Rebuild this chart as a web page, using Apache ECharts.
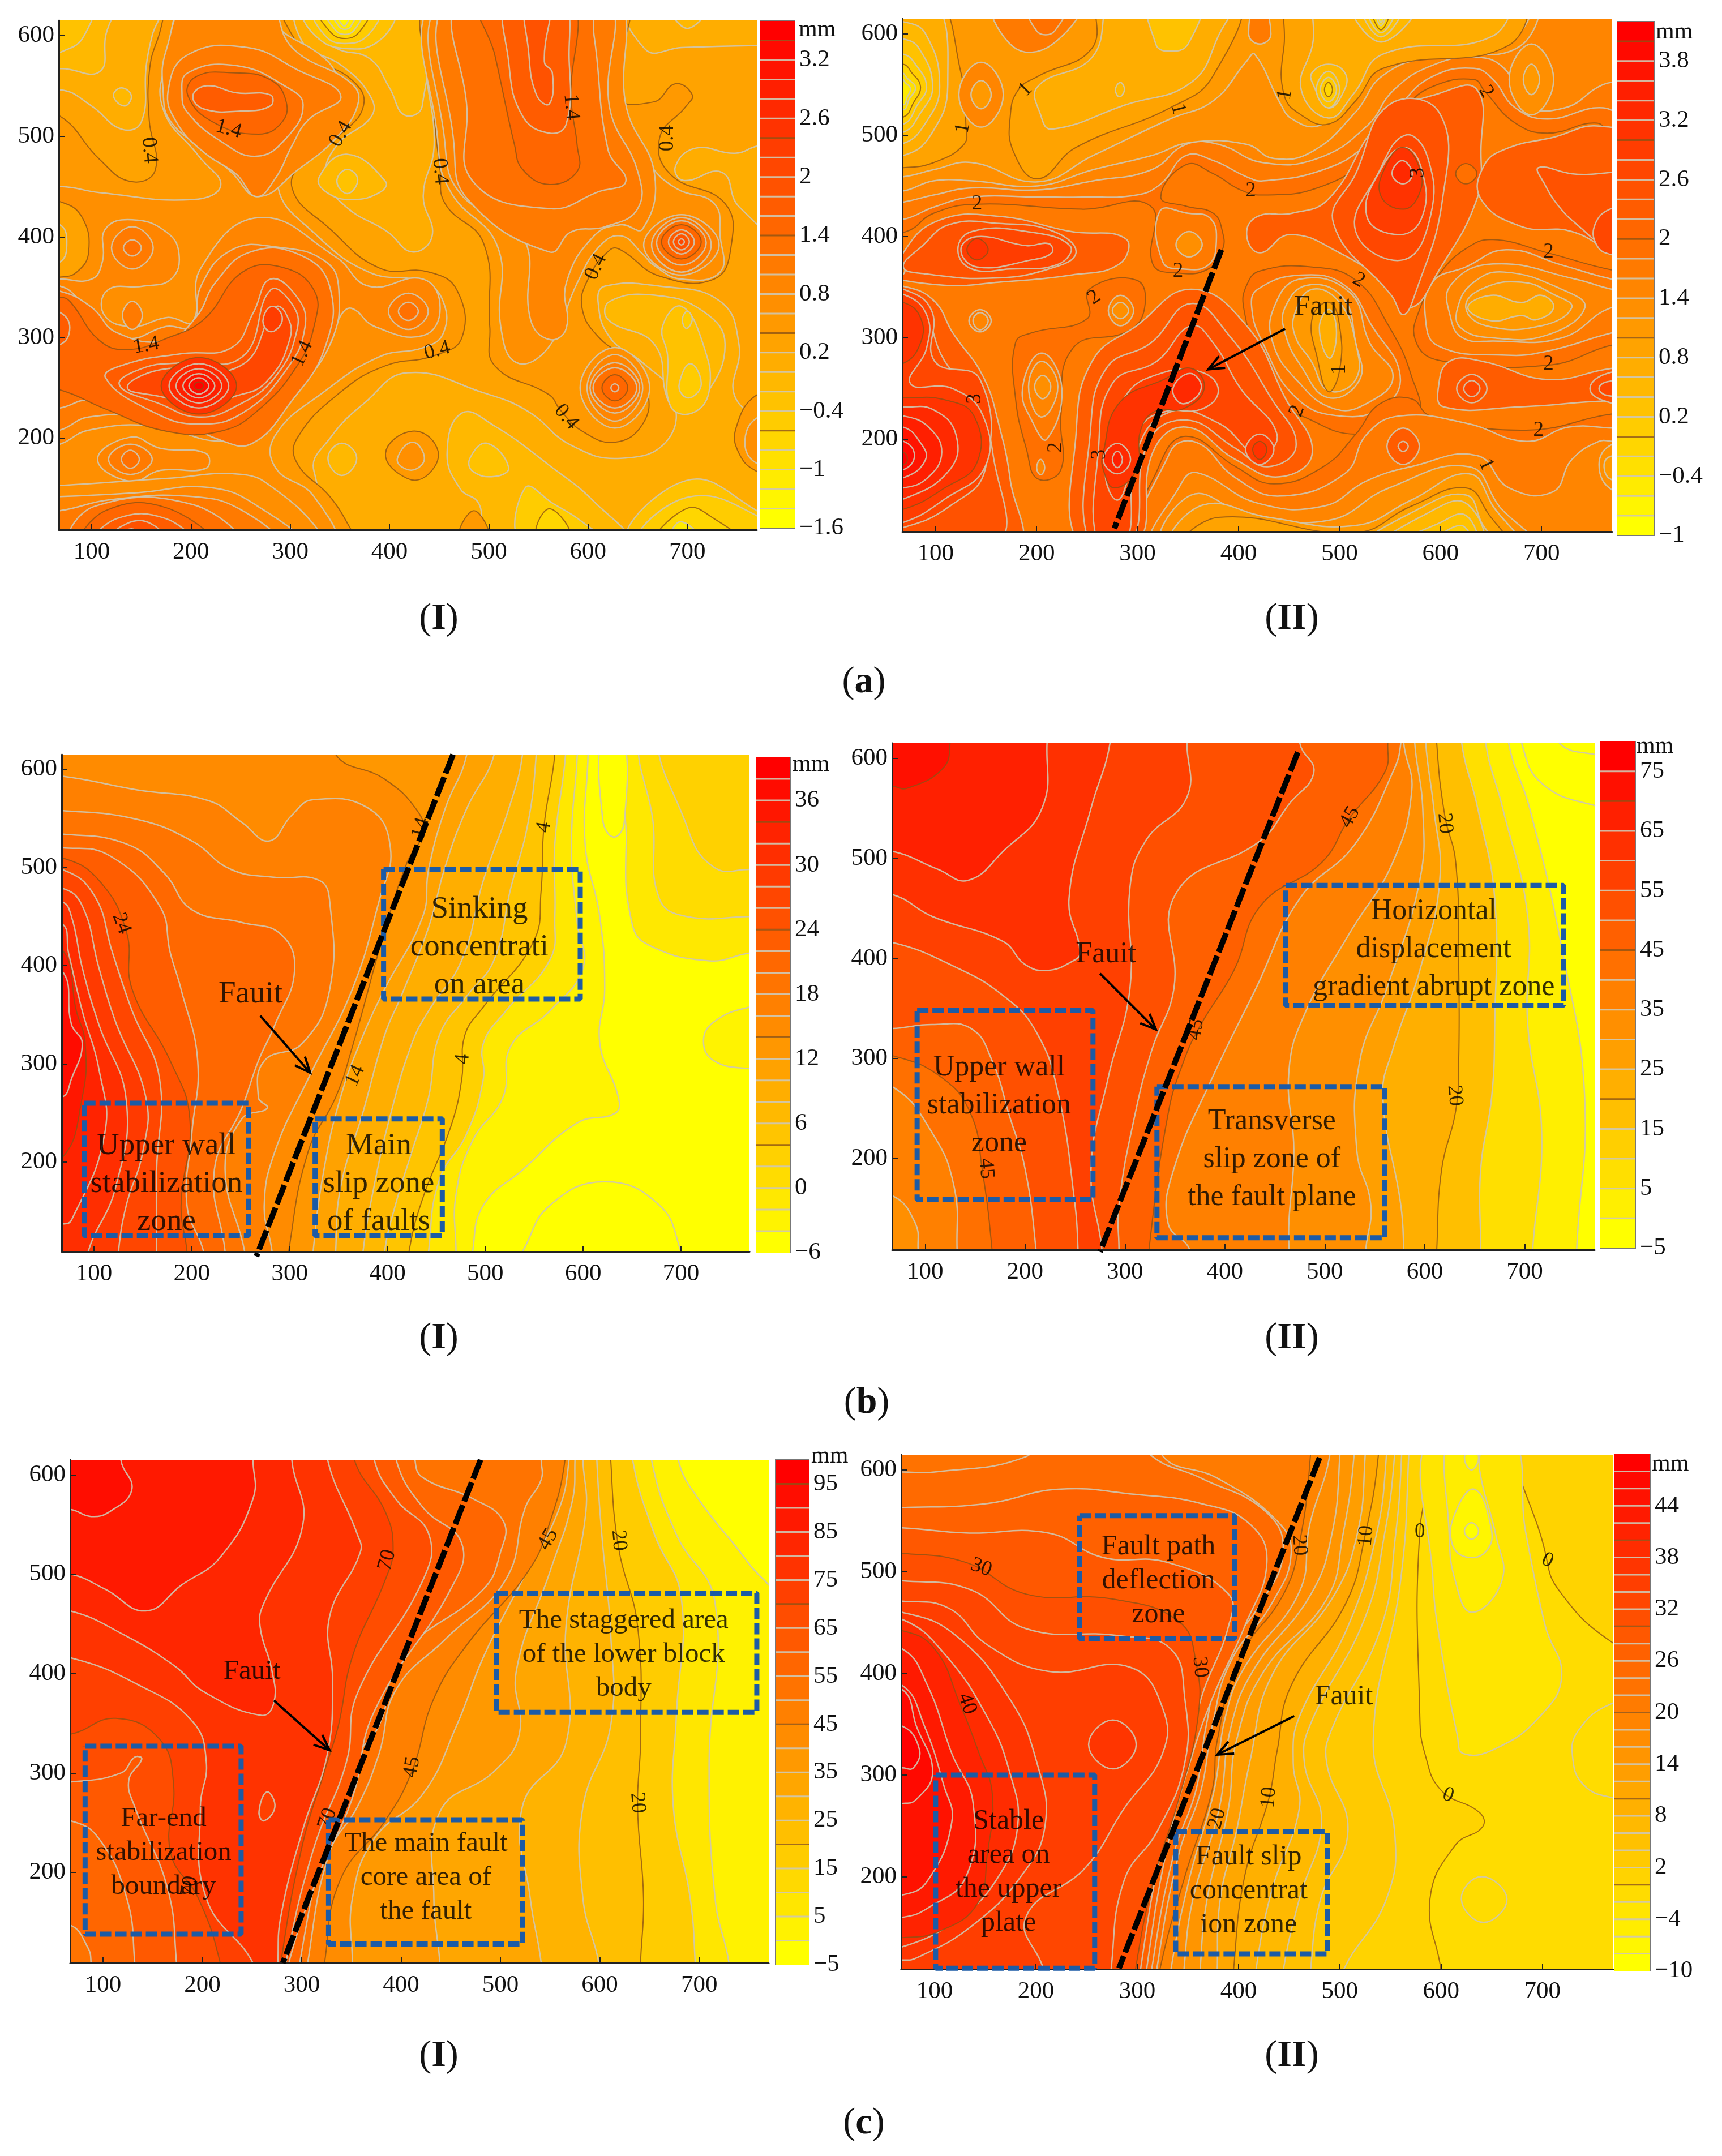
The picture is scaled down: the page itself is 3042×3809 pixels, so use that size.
<!DOCTYPE html>
<html>
<head>
<meta charset="utf-8">
<style>html,body{margin:0;background:#fff}#chart{width:3042px;height:3809px}</style>
<script src="https://cdn.jsdelivr.net/npm/echarts@6/dist/echarts.min.js"></script>
</head>
<body>
<div id="chart"></div>
<script>
const xTicks = [100, 200, 300, 400, 500, 600, 700]
const yTicks = [200, 300, 400, 500, 600]

const a1Levels = [-1.6,-1.4,-1.2,-1,-0.8,-0.6,-0.4,-0.2,0,0.2,0.4,0.6,0.8,1,1.2,1.4,1.6,1.8,2,2.2,2.4,2.6,2.8,3,3.2,3.4,3.6]
const a2Levels = [-1,-0.8,-0.6,-0.4,-0.2,0,0.2,0.4,0.6,0.8,1,1.2,1.4,1.6,1.8,2,2.2,2.4,2.6,2.8,3,3.2,3.4,3.6,3.8,4,4.2]
const b1Levels = [-6,-4,-2,0,2,4,6,8,10,12,14,16,18,20,22,24,26,28,30,32,34,36,38,40]
const b2Levels = [-5,0,5,10,15,20,25,30,35,40,45,50,55,60,65,70,75,80]
const c1Levels = [-5,0,5,10,15,20,25,30,35,40,45,50,55,60,65,70,75,80,85,90,95,100]
const c2Levels = [-10,-8,-6,-4,-2,0,2,4,6,8,10,12,14,16,18,20,22,24,26,28,30,32,34,36,38,40,42,44,46,48,50]

const a1BarTicks = [-1.6,-1,-0.4,0.2,0.8,1.4,2,2.6,3.2]
const a2BarTicks = [-1,-0.4,0.2,0.8,1.4,2,2.6,3.2,3.8]
const b1BarTicks = [-6,0,6,12,18,24,30,36]
const b2BarTicks = [-5,5,15,25,35,45,55,65,75]
const c1BarTicks = [-5,5,15,25,35,45,55,65,75,85,95]
const c2BarTicks = [-10,-4,2,8,14,20,26,32,38,44]

// [level, 1 = higher inside / -1 = lower inside, x,y list, 1 = close towards lower left]
const a1Contours = [
[0.2,-1,[40,535,68,546,100,530,130,507,150,514,155,570,161,600,172,640,40,640]],
[0,-1,[40,560,68,567,108,564,114,599,122,640,40,640]],
[-0.2,-1,[40,575,68,583,92,599,100,640,40,640]],
[0,-1,[122,540,130,548,140,540,133,530]],
[0.2,-1,[312,640,312,594,352,570,380,541,382,520,347,491,336,459,356,430,398,405,423,385,443,401,434,441,445,491,437,563,431,640]],
[0,-1,[312,640,317,614,345,588,380,577,400,548,415,521,433,530,431,640]],
[0,-1,[329,459,357,482,396,455,390,444,362,437,337,444]],
[-0.2,-1,[347,455,357,467,368,457,358,443]],
[-0.2,-1,[315,625,325,600,355,587,390,595,403,625]],
[-0.4,-1,[325,625,335,600,355,592,378,600,388,625]],
[-0.6,-1,[330,625,340,604,355,597,370,604,378,625]],
[-0.8,-1,[336,625,345,606,355,601,365,606,372,625]],
[-1,-1,[342,625,349,609,355,606,361,609,366,625]],
[-1.2,-1,[346,625,352,611,356,610,360,625]],
[0.2,-1,[368,95,324,167,340,200,376,236,418,265,495,245,539,227,583,193,633,180,680,198,685,243,655,275,622,300,610,336,617,351,672,351,733,336,752,293,749,239,800,200,800,95]],
[0,-1,[622,336,620,318,667,293,680,239,694,225,716,239,738,293,716,326,667,342]],
[0,-1,[473,225,506,212,561,173,606,137,640,95,500,95,490,135,471,150,458,185]],
[-0.2,-1,[481,180,498,195,520,171,506,162,484,167]],
[-0.4,-1,[534,95,537,151,565,135,594,117,617,95]],
[-0.6,-1,[548,100,561,130,583,100]],
[-0.2,-1,[641,95,699,158,770,128,800,100,800,95]],
[-0.4,-1,[652,95,699,141,770,123,790,95]],
[-0.6,-1,[669,95,699,130,727,120,755,95]],
[-1,-1,[683,95,693,117,716,95]],
[0.4,1,[396,185,423,207,448,190,440,165,418,160]],
[0.6,1,[408,180,423,196,435,182,428,170,415,170]],
[0,-1,[338,180,352,195,367,180,352,163]],
[0.4,1,[470,100,485,128,500,100]],
[-0.2,-1,[675,311,694,331,716,293,722,247,705,225,683,232,680,283]],
[-0.4,-1,[692,255,703,274,714,255,705,241,695,243]],
[-0.4,-1,[695,318,700,326,705,318,699,309]],
[0.2,-1,[640,640,658,586,694,588,770,590,800,590,800,640]],
[0,-1,[680,640,700,607,725,640]],
[0.2,-1,[800,495,770,490,748,483,708,488,688,470,696,456,735,464,752,430,800,400]],
[0.4,1,[40,520,68,520,108,477,139,455,164,466,158,516,158,563,166,595,188,640,268,640,318,581,362,556,374,531,351,502,318,480,302,448,340,408,390,369,440,365,468,347,473,300,445,282,396,272,351,246,307,200,307,175,340,142,362,108,368,95,40,95]],
[0.4,1,[445,640,445,527,451,466,456,433,495,393,501,311,506,272,561,243,572,228,594,207,627,196,655,214,660,247,644,275,611,300,594,329,600,358,622,387,633,387,672,361,727,358,744,390,738,433,683,462,672,498,699,530,705,541,688,552,666,534,628,541,633,640]],
[0.4,1,[800,243,770,243,749,210,752,185,770,167,800,160]],
[0.6,1,[800,222,770,220,758,195,770,175,800,172]],
[0.6,1,[40,445,68,450,108,444,202,437,230,451,208,480,172,527,175,574,199,640,268,640,285,610,335,577,351,552,360,531,340,502,307,480,288,448,324,404,379,365,434,355,454,336,454,304,434,290,390,281,334,246,285,203,285,171,324,142,340,95,40,95]],
[0.4,-1,[40,437,68,435,90,420,97,385,85,365,68,360,40,360]],
[0.2,-1,[40,415,68,412,75,395,68,375,40,375]],
[0.6,1,[449,640,449,491,462,444,509,390,512,311,528,275,560,290,589,354,611,390,633,401,655,383,666,372,694,358,733,365,733,401,727,433,689,448,661,473,625,527,620,640]],
[0.8,1,[456,640,456,491,473,441,534,401,542,318,561,298,578,309,578,354,606,401,633,412,655,408,667,462,639,527,622,640]],
[1,1,[462,640,465,491,479,437,561,385,583,405,617,410,650,428,650,465,622,527,614,640]],
[1.2,1,[473,640,478,527,484,455,561,428,611,445,638,455,620,487,606,600,597,640]],
[1.4,1,[491,640,506,581,526,491,534,467,561,452,589,465,589,491,583,535,580,640]],
[1.6,1,[520,640,520,574,534,520,561,503,578,512,581,574,572,640]],
[1.8,1,[538,640,540,585,548,541,561,532,564,563,556,574,561,640]],
[0.8,1,[172,545,175,585,202,640,274,640,302,588,362,552,368,531,346,498,307,466,268,440,241,464,219,483,180,514]],
[1,1,[177,545,197,581,257,588,307,566,351,540,318,516,302,491,285,458,266,440,246,462,213,484,186,513]],
[1.2,1,[191,541,197,563,246,570,296,549,313,531,296,498,266,480,230,495,197,523]],
[1.4,1,[197,540,205,559,241,563,280,556,296,534,291,513,268,502,224,513]],
[1.6,1,[202,540,216,550,246,543,280,541,280,530,252,525,213,527]],
[0.8,1,[40,358,68,358,100,358,111,376,114,408,141,417,175,405,188,383,180,358,152,351,116,347,113,322,141,311,177,320,202,316,210,369,268,419,346,380,379,351,434,358,451,329,434,302,385,311,362,329,351,322,340,293,313,254,263,211,230,197,164,212,97,208,68,194,40,190]],
[1,1,[40,351,68,351,85,340,102,318,136,299,175,311,202,311,210,351,241,387,285,390,335,376,349,347,340,293,302,243,263,203,230,203,164,221,97,221,68,208,40,205]],
[1.2,1,[40,345,68,346,100,330,125,305,175,297,205,320,225,355,260,385,310,382,340,350,335,290,300,235,262,195,230,198,164,228,97,238,68,230,40,230]],
[1.4,1,[40,340,68,340,78,336,108,297,136,288,175,299,213,318,252,365,291,370,324,347,324,311,307,272,268,228,230,207,175,207,114,229,68,248,40,250]],
[1.6,1,[40,330,68,325,78,310,68,293,40,295]],
[1.6,1,[114,260,136,274,191,284,241,290,263,325,280,358,307,340,315,311,296,268,252,225,208,214,164,225]],
[1.8,1,[128,253,153,270,191,275,252,281,280,347,302,333,307,308,285,261,246,232,208,221,169,234]],
[2,1,[136,250,169,268,250,272,285,330,295,325,300,300,275,255,240,240,208,228,175,240]],
[2.2,1,[273,320,282,331,292,320,285,307,276,308]],
[2.4,1,[170,252,208,280,246,252,208,224]],
[2.6,1,[178,252,208,274,238,252,208,230]],
[2.8,1,[185,252,208,269,231,252,208,235]],
[3,1,[192,252,208,264,224,252,208,240]],
[3.2,1,[198,252,208,260,218,252,208,244]],
[3.4,1,[203,252,208,256,213,252,208,248]],
[1,1,[120,389,141,410,162,389,141,368]],
[1.2,1,[132,389,141,397,150,389,141,381]],
[1,1,[399,326,419,344,439,326,419,308]],
[1.2,1,[409,326,419,335,429,326,419,317]],
[1,1,[131,322,141,336,151,322,141,308]],
[0.8,1,[106,179,139,201,169,190,215,185,215,170,169,168,139,157]],
[1,1,[117,179,139,194,161,179,139,164]],
[1.2,1,[130,179,139,188,148,179,139,170]],
[0.6,1,[40,153,68,153,175,160,252,164,285,149,329,108,329,95,40,95]],
[0.8,1,[40,142,68,142,147,146,219,151,268,132,307,95,40,95]],
[1,1,[40,128,68,128,119,139,202,142,252,128,285,95,40,95]],
[1.2,1,[81,95,102,132,202,134,246,95]],
[1.4,1,[92,95,114,128,175,131,219,95]],
[1.6,1,[103,95,125,120,175,120,200,95]],
[1.8,1,[115,95,135,115,160,115,175,95]],
[2,1,[125,95,140,110,155,95]],
[2.2,1,[132,95,140,105,148,95]],
[0.8,1,[656,392,694,422,732,392,694,362]],
[1,1,[664,392,694,419,724,392,694,365]],
[1.2,1,[669,394,694,416,719,394,694,372]],
[1.4,1,[674,395,694,412,714,395,694,378]],
[1.6,1,[681,395,694,407,707,395,694,383]],
[1.8,1,[686,395,694,403,702,395,694,387]],
[2,1,[691,395,694,398,697,395,694,392]],
[0.6,1,[592,250,627,290,662,250,627,210]],
[0.8,1,[599,250,627,283,655,250,627,217]],
[1,1,[602,250,627,275,652,250,627,225]],
[1.2,1,[605,250,627,270,649,250,627,230]],
[1.4,1,[614,250,627,263,640,250,627,237]],
[1.6,1,[623,250,627,254,631,250,627,246]]
]

const a2Contours = [
[2,-1,[40,405,71,405,98,423,141,432,245,427,313,430,315,373,340,364,370,368,384,387,384,405,375,423,348,430,323,439,348,471,375,462,402,446,424,441,478,448,527,477,565,527,592,548,633,555,644,543,674,512,706,502,755,512,770,498,800,500,800,640,40,640]],
[1.8,-1,[40,417,68,417,98,429,136,439,201,439,245,439,299,441,323,452,348,480,375,475,408,459,424,455,484,466,527,491,560,530,592,558,633,566,652,555,674,527,706,516,761,527,800,510,800,640,40,640]],
[1.8,-1,[322,425,350,423,372,418,378,395,370,372,345,368,325,375]],
[1.6,-1,[40,430,68,434,98,441,136,448,201,446,256,455,314,466,348,491,380,491,424,473,478,477,527,509,554,545,592,569,635,577,663,566,685,530,723,527,761,550,800,560,800,640,40,640]],
[1.4,-1,[338,392,351,405,364,392,351,380]],
[1.4,-1,[40,445,68,445,98,455,136,455,201,450,256,466,314,480,353,493,408,491,435,477,473,484,516,523,543,559,592,578,679,588,687,640,40,640]],
[1.2,-1,[40,459,68,459,98,466,136,473,201,454,256,480,332,516,375,534,408,573,416,580,442,530,453,516,478,509,500,527,520,562,548,580,592,587,674,598,682,640,40,640]],
[1,-1,[40,468,68,468,98,473,128,491,130,509,125,562,98,640,40,640]],
[1,-1,[266,640,255,586,201,558,182,545,174,520,177,484,201,457,239,488,332,527,375,559,397,640]],
[0.8,-1,[201,548,204,520,215,506,288,530,353,552,380,598,394,640,280,640,255,577]],
[0.4,-1,[312,640,318,590,330,583,350,590,362,640]],
[0.6,-1,[278,545,283,552,287,545,282,538]],
[0.8,-1,[40,483,68,480,95,500,112,550,95,640,40,640]],
[0.6,-1,[40,495,68,492,90,512,104,548,90,600,68,612,40,612]],
[0.4,-1,[40,505,68,503,85,522,97,548,84,585,68,595,40,595]],
[0.2,-1,[40,513,68,511,82,530,91,548,80,570,68,580,40,580]],
[0,-1,[40,519,68,518,78,532,85,548,76,562,68,570,40,570]],
[-0.2,-1,[40,526,68,525,74,536,80,547,72,556,66,562,40,562]],
[-0.4,-1,[40,531,68,530,72,538,75,546,70,552,66,556,40,556]],
[1.4,1,[123,540,145,572,167,540,145,508]],
[1.2,-1,[135,540,145,554,155,540,145,526]],
[1.6,1,[158,640,176,588,216,590,245,640]],
[1.8,1,[190,640,200,603,218,603,230,640]],
[1.6,1,[410,600,420,640,432,600,421,590]],
[1,-1,[457,640,445,588,445,540,462,520,489,511,516,534,543,566,668,589,677,640]],
[0.8,-1,[462,545,489,517,514,541,543,580,652,598,663,640,484,640,473,588]],
[0.6,-1,[473,552,489,527,505,545,505,562,489,570,473,562]],
[0.4,-1,[477,545,489,563,500,545,489,527]],
[0.2,-1,[481,545,489,557,497,545,489,533]],
[0,-1,[485,545,489,552,493,545,489,538]],
[0.6,-1,[510,640,541,592,580,640]],
[0.4,-1,[520,640,541,597,565,640]],
[0.2,-1,[525,640,541,601,558,640]],
[0,-1,[530,640,541,604,552,640]],
[-0.2,-1,[534,640,541,608,548,640]],
[-0.4,-1,[537,640,541,611,545,640]],
[1.4,-1,[668,555,690,590,712,555,690,520]],
[1.2,-1,[682,555,690,570,698,555,690,540]],
[2,-1,[408,352,421,366,473,370,516,357,548,313,571,263,576,223,516,205,457,225,446,229,421,277,405,330]],
[1.8,-1,[419,348,462,362,505,352,532,312,560,263,543,232,500,223,457,241,424,295,413,330]],
[1.6,-1,[435,330,460,358,510,345,530,295,553,262,530,237,495,230,457,259,434,295]],
[1.4,-1,[446,330,468,352,503,340,516,295,520,259,489,241,462,272,446,305]],
[1.2,-1,[456,325,473,348,500,335,516,295,516,259,489,248,472,277,456,302]],
[1,-1,[473,320,490,335,500,312,500,268,489,247,478,280]],
[0.8,-1,[480,310,490,328,497,305,490,280]],
[2,-1,[800,365,770,367,706,384,652,397,625,388,598,362,580,330,575,298,598,278,706,273,770,293,800,295]],
[1.8,-1,[800,355,770,358,720,372,665,387,625,370,592,355,585,320,598,292,665,283,706,287,770,305,800,310]],
[1.6,-1,[610,320,610,352,652,373,734,358,770,348,800,345,800,325,770,330,720,300,652,297,622,300]],
[1.4,-1,[617,330,633,355,663,365,720,348,743,330,706,303,652,300,620,310]],
[1.2,-1,[625,330,640,348,680,355,712,343,730,330,700,312,645,312]],
[0.8,-1,[627,330,650,342,680,335,700,342,712,330,695,318,680,322,650,317]],
[2,-1,[304,95,321,173,348,203,397,173,435,156,484,173,516,205,540,235,571,240,590,223,685,209,770,225,800,225,800,95]],
[1.8,-1,[313,95,332,187,358,197,397,162,441,144,505,166,527,205,559,223,625,216,685,198,727,212,770,211,800,210,800,95]],
[1.6,-1,[321,95,343,156,359,167,419,137,484,134,527,159,571,173,636,184,668,152,711,148,730,180,757,198,770,198,800,198,800,95]],
[1.4,-1,[329,95,353,145,408,127,489,120,549,152,628,173,658,134,690,95]],
[1.2,-1,[337,95,364,135,430,123,516,115,571,140,628,166,652,134,674,95]],
[1,-1,[348,95,380,123,516,108,571,134,625,152,647,127,663,95]],
[0.8,-1,[527,95,576,130,625,145,641,117,652,95]],
[0.6,-1,[543,95,587,127,625,137,639,95]],
[0.4,-1,[557,95,598,117,625,125,633,95]],
[0.2,-1,[592,95,620,115,630,95]],
[1.4,-1,[800,195,770,195,757,175,770,150,800,150]],
[1.2,-1,[800,185,768,183,762,172,770,160,800,160]],
[2,-1,[179,241,179,295,195,305,250,319,252,348,299,357,307,330,291,307,236,290,224,223,224,170,201,161,190,190]],
[1.8,-1,[186,250,205,285,225,250,210,200,197,215]],
[1.6,-1,[192,252,205,277,221,252,205,222]],
[1.4,-1,[198,252,206,263,214,252,206,240]],
[1.6,-1,[271,327,283,342,296,327,283,312]],
[1.4,-1,[275,327,283,335,291,327,283,319]],
[1.6,-1,[200,172,204,180,208,172,204,165]],
[1.8,-1,[133,317,144,328,155,317,144,306]],
[1.6,-1,[137,317,144,325,152,317,144,308]],
[2.2,1,[40,363,68,363,68,384,103,416,163,420,234,405,288,398,282,373,234,362,163,355,109,352]],
[2.4,1,[68,370,87,391,114,412,163,413,217,405,239,384,212,368,157,359,92,363]],
[2.6,1,[122,387,136,405,190,405,233,391,222,373,173,368,136,368]],
[2.8,1,[125,387,141,400,190,391,212,393,215,384,195,377,141,370]],
[3,1,[131,387,141,398,152,387,141,377]],
[2.2,1,[40,351,68,351,98,337,117,305,147,262,163,213,174,159,179,95,40,95]],
[2.4,1,[40,340,68,340,87,330,109,277,138,245,157,184,160,95,40,95]],
[2.6,1,[40,348,68,348,96,327,99,277,144,259,149,170,114,134,68,113,40,113]],
[2.8,1,[40,343,68,343,91,323,91,290,75,255,117,250,147,223,149,173,109,141,68,118,40,118]],
[3,1,[40,335,68,335,85,320,85,295,68,275,40,275]],
[3,1,[40,241,68,241,109,239,138,223,141,177,109,152,68,131,40,131]],
[3.2,1,[40,232,68,232,98,229,120,205,114,170,68,141,40,141]],
[3.4,1,[40,223,68,223,93,212,106,187,92,162,68,152,40,152]],
[3.6,1,[40,212,68,212,84,198,90,180,68,162,40,162]],
[3.8,1,[40,198,68,198,79,184,68,170,40,170]],
[4,1,[40,187,68,187,72,180,68,175,40,175]],
[2.2,1,[242,95,239,205,255,277,299,312,353,348,408,312,446,241,473,187,441,163,397,180,348,212,315,187,299,95]],
[2.4,1,[253,95,253,205,269,270,313,295,353,334,391,302,432,241,457,194,429,173,397,191,348,219,310,196,293,95]],
[2.6,1,[261,95,261,187,275,255,319,277,353,312,375,295,402,250,438,205,420,184,380,216,332,227,299,187,288,95]],
[2.8,1,[268,170,287,241,326,266,364,266,380,248,364,230,326,227,303,212,293,170,280,140]],
[3,1,[266,187,282,236,326,259,353,270,366,250,345,230,318,228,303,209,299,170,277,152,266,170]],
[3.2,1,[266,180,280,196,293,180,280,166]],
[3.4,1,[275,180,280,188,285,180,280,172]],
[3.2,1,[335,250,352,265,363,250,345,235]],
[2.8,1,[407,190,421,205,435,190,421,175]],
[3,1,[414,190,421,198,428,190,421,180]],
[2.2,1,[408,402,419,420,453,423,489,437,543,516,598,541,636,545,640,484,636,437,598,366,571,330,549,352,500,384,451,402,421,384]],
[2.4,1,[494,413,516,462,549,530,599,522,602,437,574,341,563,323,552,341]],
[2.6,1,[516,405,538,462,565,500,587,479,590,420,563,377]],
[2.8,1,[527,420,543,470,565,488,582,464,582,420,560,402]],
[3,1,[541,440,545,468,563,488,580,465,578,440,563,427]],
[3.2,1,[552,462,562,475,572,462,563,452]],
[2,-1,[615,462,625,472,636,462,625,452]],
[2.2,1,[643,470,666,487,712,498,757,509,800,490,800,370,770,384,730,405,680,410,640,437]],
[2.4,1,[697,468,730,462,800,455,800,385,765,390,735,412,717,430,703,452]],
[2.6,1,[800,430,770,428,753,412,755,391,770,382,800,380]],
[2.2,1,[598,252,609,277,641,277,706,259,770,270,800,270,800,235,770,238,679,232,603,232]],
[2.4,1,[616,250,631,264,646,250,631,236]],
[2.6,1,[623,250,631,258,639,250,631,242]],
[2.4,1,[748,250,765,265,800,265,800,235,765,237]],
[2.6,1,[757,250,766,257,800,256,800,244,766,243]],
[2.2,1,[547,193,563,211,579,193,563,175]],
[2.4,1,[558,193,563,198,568,193,563,188]]
]

const b1Contours = [
[-4,1,[605,615,602,524,617,450,622,376,617,321,636,266,633,250,594,240,538,192,498,156,487,109],1],
[-2,1,[800,413,771,413,729,405,667,421,650,443,644,524,656,640,800,640]],
[-4,1,[800,358,771,358,734,343,723,323,734,303,771,295,800,295]],
[0,1,[800,450,771,450,706,450,678,468,672,540,667,640,800,640]],
[2,1,[800,498,771,498,734,500,706,542,684,640,800,640]],
[-4,-1,[620,640,620,549,631,531,642,546,640,640]],
[-4,-1,[530,95,538,109,566,156,622,180,678,156,700,109,700,95]],
[-2,1,[594,615,588,524,594,443,600,398,566,354,526,318,518,266,487,222,470,167,470,109],1],
[2,1,[582,615,571,524,571,450,566,406,521,354,498,321,498,285,481,229,453,182,442,109],1],
[4,1,[571,615,560,542,557,476,549,424,498,358,479,329,476,285,465,237,436,163,422,109],1],
[6,1,[552,615,543,542,526,479,509,406,481,369,453,329,442,266,425,211,408,156,397,109],1],
[8,1,[538,615,524,560,498,487,476,406,442,354,425,321,403,248,386,174,375,109],1],
[10,1,[509,615,481,560,459,501,442,439,414,369,397,329,375,251,352,174,347,109],1],
[12,1,[481,615,459,560,442,498,436,450,397,376,375,329,352,266,335,192,324,109],1],
[14,1,[347,615,397,590,431,557,436,535,420,505,397,435,364,317,347,266,319,211,299,109],1],
[16,1,[67,593,144,579,217,568,251,546,279,527,302,553,324,569,381,560,403,520,392,468,364,376,319,285,285,211,274,156,282,109],1],
[18,1,[67,558,144,549,200,527,240,498,285,490,330,487,341,465,341,376,313,321,274,303,268,266,277,255,251,244,234,192,254,109],1],
[20,1,[67,534,133,524,172,494,200,457,251,444,291,432,305,395,285,340,268,303,251,255,223,192,234,109],1],
[22,1,[67,520,116,512,167,461,178,413,189,376,206,303,200,229,195,156,212,109],1],
[24,1,[67,510,105,487,133,435,139,376,178,303,198,244,189,156,195,109],1],
[26,1,[67,498,100,472,119,413,139,354,167,285,164,192,164,109],1],
[28,1,[67,479,88,461,105,398,122,343,153,266,150,211,133,156,125,109],1],
[30,1,[67,465,77,450,88,398,105,340,133,263,122,174,94,109],1],
[32,1,[67,443,74,413,88,354,105,295,111,229,77,141,67,137],1],
[34,1,[67,417,82,354,91,321,88,266,67,204],1],
[36,1,[67,395,77,340,88,321,77,285,67,266],1]
]

const b2Contours = [
[0,1,[684,615,705,550,738,406,760,262,752,109],1],
[0,-1,[697,640,697,615,717,575,769,553,800,553,800,640]],
[0,-1,[735,640,735,615,769,604,800,604,800,640]],
[5,1,[661,615,678,550,703,442,703,334,717,226,708,109],1],
[15,1,[637,615,653,550,670,460,670,334,667,262,656,190,656,109],1],
[20,1,[612,615,620,543,631,496,634,392,634,298,631,248,617,190,612,109],1],
[25,1,[601,615,609,550,615,478,595,388,568,309,558,262,576,154,579,109],1],
[30,1,[590,615,598,550,595,478,562,370,535,298,532,208,546,154,541,109],1],
[35,1,[579,615,587,568,568,496,524,424,480,345,464,287,469,208,464,136,464,109],1],
[40,1,[576,615,568,586,530,514,475,460,431,370,387,280,349,190,343,136,365,109],1],
[45,1,[563,615,560,586,524,539,497,496,436,453,409,388,376,334,359,298,343,244,324,109],1],
[50,1,[475,615,489,586,464,554,436,518,351,465,349,370,327,309,310,244,294,154,294,109],1],
[55,1,[362,615,362,561,321,518,305,471,305,370,283,280,266,190,277,109],1],
[60,1,[285,615,266,550,244,460,255,406,247,397,222,388,200,394,178,417,107,442,67,464],1],
[65,1,[222,615,217,550,178,507,143,478,113,489,67,507],1],
[70,1,[125,615,118,590,82,570,67,572],1],
[55,-1,[67,416,129,392,178,363,211,327,233,266,250,154,253,109],1],
[50,-1,[67,330,107,334,146,330,167,298,184,244,200,190,211,109],1],
[45,-1,[67,303,118,280,146,244,157,190,167,109],1],
[40,-1,[67,272,107,226,129,172,132,109],1],
[35,-1,[67,163,90,136,93,109],1]
]

const c1Contours = [
[0,1,[679,615,699,576,749,512,782,462,782,109],1],
[5,1,[652,615,677,540,716,471,710,311,716,174,730,109],1],
[15,1,[633,615,655,540,682,476,677,357,674,266,691,174,696,109],1],
[20,1,[611,615,619,526,638,448,641,334,638,266,644,174,641,109],1],
[25,1,[597,615,602,540,611,439,611,348,583,266,583,174,599,109],1],
[30,1,[583,615,586,563,566,448,566,330,522,266,530,174,541,109],1],
[35,1,[575,615,572,572,550,503,516,403,519,339,494,302,439,261,433,174,439,109],1],
[40,1,[569,615,558,563,522,494,483,417,456,348,422,279,373,234,351,174,351,109],1],
[45,1,[565,615,550,553,528,503,467,430,433,375,411,302,384,252,339,193,323,109],1],
[50,1,[541,615,541,595,525,567,505,494,445,435,395,384,378,320,356,266,328,220,306,109],1],
[55,1,[414,615,422,597,472,576,503,553,500,522,483,485,400,417,378,348,351,311,323,229,298,109],1],
[60,1,[395,615,422,567,461,531,450,485,373,362,351,275,317,197,287,109],1],
[65,1,[373,615,395,575,428,540,422,494,356,380,345,311,312,224,284,109],1],
[70,1,[353,615,384,563,392,526,384,494,351,417,337,348,323,302,301,229,279,109],1],
[75,1,[326,615,356,540,359,522,328,457,331,394,326,320,301,243,279,156,276,109],1],
[80,1,[290,615,301,549,262,471,258,448,270,403,272,371,259,358,201,382,173,407,121,439,67,463],1],
[85,1,[251,615,251,576,218,517,179,489,143,463,102,485,67,500],1],
[90,1,[118,615,129,585,107,563,88,558,67,565],1],
[75,-1,[67,416,135,389,190,352,204,311,198,266,204,174,251,109],1],
[70,-1,[67,339,113,355,157,334,171,289,168,220,196,174,218,109],1],
[65,-1,[67,291,118,300,132,316,139,314,126,293,132,266,165,184,174,109],1],
[60,-1,[67,252,96,234,124,174,132,109],1],
[55,-1,[67,147,85,124,88,109],1],
[75,-1,[257,261,265,281,273,266,262,252]]
]

const c2Contours = [
[0,1,[800,425,768,431,716,482,703,518,681,640,800,640]],
[-2,1,[800,370,768,370,735,343,730,316,741,290,768,278,800,278]],
[0,1,[595,614,579,540,579,357,584,321,600,285,638,263,641,249,614,231,589,178,600,107],1],
[-2,-1,[589,640,592,491,600,424,616,339,622,321,654,326,697,357,719,397,703,446,684,536,665,640]],
[-4,-1,[608,640,608,536,614,491,630,460,660,491,654,536,638,600,638,640]],
[-6,-1,[633,581,649,545,646,522,627,514,611,527,614,558]],
[-8,-1,[623,540,630,548,637,540,630,532]],
[-6,-1,[623,612,630,622,637,612,630,600]],
[-2,1,[620,178,640,200,665,178,642,155]],
[2,1,[568,614,560,491,533,334,554,245,546,178,503,107],1],
[4,1,[561,614,555,536,541,446,492,345,487,312,508,245,481,178,471,107],1],
[6,1,[554,614,544,536,525,455,471,350,465,312,482,253,460,178,444,107],1],
[8,1,[546,614,536,536,508,446,460,357,454,312,460,267,433,187,417,107],1],
[10,1,[538,614,525,536,506,469,452,388,438,323,430,277,406,200,395,107],1],
[12,1,[525,614,517,536,492,473,433,398,411,312,398,245,382,178,379,107],1],
[14,1,[514,614,503,536,487,473,425,402,398,334,390,267,369,178,362,107],1],
[16,1,[500,614,492,536,471,477,414,402,392,345,381,267,355,178,346,107],1],
[18,1,[490,614,470,545,460,480,406,406,387,357,376,285,352,200,333,107],1],
[20,1,[471,614,460,527,444,477,401,415,379,334,374,285,347,200,322,107],1],
[22,1,[325,614,379,592,438,550,452,518,433,469,392,411,374,348,363,285,341,222,319,107],1],
[24,1,[68,598,100,598,190,613,211,640,303,640,314,614,363,592,428,558,444,518,422,469,385,415,368,348,358,285,336,222,314,107],1],
[26,1,[68,563,152,567,222,581,298,576,363,567,411,547,428,509,406,446,374,375,352,312,330,231,309,107],1],
[28,1,[68,543,131,538,212,538,266,514,330,509,390,478,390,446,363,375,347,303,325,231,303,107],1],
[30,1,[68,518,131,509,190,478,276,473,341,451,358,411,360,357,341,276,317,200,298,107],1],
[32,1,[68,491,136,482,190,444,282,437,333,424,347,375,347,312,320,245,287,196,274,107],1],
[34,1,[68,471,114,464,152,428,212,402,293,406,325,366,325,321,287,267,249,209,190,160,208,107],1],
[36,1,[252,330,276,354,299,330,276,306]],
[36,1,[68,460,120,438,174,375,201,312,209,250,185,200,136,151,82,120,68,118],1],
[38,1,[68,453,109,420,152,357,174,303,182,250,163,200,125,160,68,131],1],
[40,1,[68,442,100,424,125,370,144,321,157,281,152,222,142,173,104,146,68,140],1],
[42,1,[68,424,93,388,117,321,138,272,131,200,93,169,68,160],1],
[44,1,[68,388,90,348,109,290,117,254,93,196,68,182],1],
[46,1,[68,384,82,348,98,303,82,276,68,272],1],
[48,1,[68,348,85,325,79,307,68,307],1]
]

// contour labels on the lines: [text, x, y, rotation]
const a1LineLabels = [['0.4',158,486,-85],['0.4',351,502,60],['0.4',451,465,-85],['0.4',680,498,90],['0.4',608,370,65],['0.4',448,287,15],['0.4',578,221,-50],['1.4',238,507,-15],['1.4',583,529,-85],['1.4',155,292,10],['1.4',312,284,65]]
const a2LineLabels = [['1',127,507,80],['1',189,545,45],['1',340,526,-75],['1',446,540,80],['1',500,269,90],['1',645,175,-65],['2',141,432,0],['2',412,445,0],['2',340,366,0],['2',257,340,35],['2',519,357,-30],['2',707,385,0],['2',707,274,0],['2',697,209,0],['2',219,192,90],['2',458,228,70],['2',645,543,-60],['3',139,240,90],['3',262,185,90],['3',578,463,90]]
const b1LineLabels = [['24',128,443,-70],['14',434,540,75],['4',560,541,80],['14',367,288,65],['4',477,305,85]]
const b2LineLabels = [['45',525,541,60],['20',620,535,-85],['45',371,329,80],['20',630,263,-85],['45',161,190,-85]]
const c1LineLabels = [['70',386,514,75],['45',548,535,60],['20',619,534,-85],['45',411,306,80],['20',638,270,-85],['70',326,254,70],['70',187,186,80]]
const c2LineLabels = [['30',146,504,-20],['20',460,526,-85],['10',526,535,85],['0',579,539,0],['0',705,511,-25],['40',132,370,-70],['30',362,406,-85],['10',430,278,85],['20',379,257,75],['0',607,280,-20]]

const a2Fault = [[383,387],[277,112]]
const b1Fault = [[467,615],[266,104]]
const b2Fault = [[473,606],[275,107]]
const c1Fault = [[480,615],[281,109]]
const c2Fault = [[480,612],[282,110]]

const a2Arrows = [[446,309,370,269]]
const b1Arrows = [[270,349,321,291]]
const b2Arrows = [[275,385,331,329]]
const c1Arrows = [[272,373,328,323]]
const c2Arrows = [[455,358,379,320]]

// [x1, x2, y top, y bottom]
const b1Boxes = [[396,597,498,366],[90,258,260,125],[326,456,244,125]]
const b2Boxes = [[461,739,473,353],[92,268,348,159],[332,560,272,121]]
const c1Boxes = [[496,758,481,361],[82,239,327,138],[327,522,253,128]]
const c2Boxes = [[243,396,555,434],[101,258,300,110],[338,488,244,124]]

const a2Notes = [['Fauit',484,330]]
const b1Notes = [['Sinking\nconcentrati\non area',494,419],['Upper wall\nstabilization\nzone',174,178],['Main\nslip zone\nof faults',391,178],['Fauit',260,371]]
const b2Notes = [['Horizontal\ndisplacement\ngradient abrupt zone',609,409],['Upper wall\nstabilization\nzone',174,253],['Transverse\nslip zone of\nthe fault plane',447,199],['Fauit',281,404]]
const c1Notes = [['The staggered area\nof the lower block\nbody',624,419],['Far-end\nstabilization\nboundary',161,220],['The main fault\ncore area of\nthe fault',425,195],['Fauit',250,402]]
const c2Notes = [['Fault path\ndeflection\nzone',321,491],['Stable\narea on\nthe upper\nplate',173,204],['Fault slip\nconcentrat\nion zone',410,186],['Fauit',504,377]]

const panels = [
  { contours: a1Contours, levels: a1Levels, base: 0.2, ticks: a1BarTicks, major: [0.4, 1], lineLabels: a1LineLabels, fault: null, arrows: [], boxes: [], notes: [], plot: [104, 1337, 36, 936], bar: [1343, 1404, 37, 933], mm: [1411, 32], noteSize: 52, noteLine: 66 },
  { contours: a2Contours, levels: a2Levels, base: 1.6, ticks: a2BarTicks, major: [1, 1], lineLabels: a2LineLabels, fault: a2Fault, arrows: a2Arrows, boxes: [], notes: a2Notes, plot: [1594, 2848, 33, 939], bar: [2857, 2922, 38, 946], mm: [2925, 36], noteSize: 50, noteLine: 66 },
  { contours: b1Contours, levels: b1Levels, base: -6, ticks: b1BarTicks, major: [4, 10], lineLabels: b1LineLabels, fault: b1Fault, arrows: b1Arrows, boxes: b1Boxes, notes: b1Notes, plot: [109, 1324, 1333, 2211], bar: [1336, 1396, 1338, 2213], mm: [1400, 1330], noteSize: 55, noteLine: 67 },
  { contours: b2Contours, levels: b2Levels, base: -5, ticks: b2BarTicks, major: [20, 25], lineLabels: b2LineLabels, fault: b2Fault, arrows: b2Arrows, boxes: b2Boxes, notes: b2Notes, plot: [1576, 2817, 1313, 2208], bar: [2827, 2889, 1310, 2205], mm: [2891, 1298], noteSize: 52, noteLine: 67 },
  { contours: c1Contours, levels: c1Levels, base: -5, ticks: c1BarTicks, major: [20, 25], lineLabels: c1LineLabels, fault: c1Fault, arrows: c1Arrows, boxes: c1Boxes, notes: c1Notes, plot: [124, 1358, 2579, 3468], bar: [1370, 1429, 2579, 3471], mm: [1433, 2552], noteSize: 49, noteLine: 60 },
  { contours: c2Contours, levels: c2Levels, base: -2, ticks: c2BarTicks, major: [0, 10], lineLabels: c2LineLabels, fault: c2Fault, arrows: c2Arrows, boxes: c2Boxes, notes: c2Notes, plot: [1592, 2850, 2570, 3479], bar: [2852, 2915, 2569, 3482], mm: [2918, 2566], noteSize: 50, noteLine: 60 }
]

const captions = [
  ['(', 'I', ')', 775, 1099], ['(', 'II', ')', 2282, 1099], ['(', 'a', ')', 1526, 1211],
  ['(', 'I', ')', 775, 2370], ['(', 'II', ')', 2282, 2370], ['(', 'b', ')', 1531, 2484],
  ['(', 'I', ')', 775, 3638], ['(', 'II', ')', 2282, 3638], ['(', 'c', ')', 1526, 3757]
]

const FONT = 'Liberation Serif'
const LIGHT = 'rgba(206,198,176,0.9)'
const DARK = 'rgba(140,82,20,0.8)'

const bandColor = (band, levels) => {
  const step = levels[1] - levels[0]
  const t = Math.min(1, Math.max(0, (band - levels[0]) / (levels[levels.length - 1] - levels[0] - step)))
  return `rgb(255,${Math.round(255 * (1 - t))},0)`
}

const isMajor = (lv, major) => {
  const q = (lv - major[0]) / major[1]
  return Math.abs(q - Math.round(q)) < 1e-6
}

// line, closed round the lower left corner outside the plot
const closeLeft = (p) => {
  const fromTop = p[1] >= 610
  const head = fromTop ? [p[0], 660] : [30, p[1]]
  const lastX = p[p.length - 2], lastY = p[p.length - 1]
  const tail = lastY <= 112 ? [lastX, 85, 30, 85] : [30, lastY]
  if (fromTop) tail.push(30, 660)
  return head.concat(p, tail)
}

const option = { animation: false, backgroundColor: '#fff', grid: [], xAxis: [], yAxis: [], series: [], title: [] }

panels.forEach((p) => {
  const idx = option.grid.length
  const [l, r, t, b] = p.plot
  const step = p.levels[1] - p.levels[0]

  option.grid.push({ left: l, top: t, width: r - l, height: b - t, show: true, borderWidth: 0, backgroundColor: bandColor(p.base, p.levels) })
  option.xAxis.push({
    type: 'value', gridIndex: idx, min: 67, max: 770, z: 5,
    splitLine: { show: false },
    axisLine: { lineStyle: { color: '#222', width: 3 } },
    axisTick: { inside: true, length: 10, lineStyle: { color: '#222', width: 2 }, customValues: xTicks },
    axisLabel: { customValues: xTicks, fontFamily: FONT, fontSize: 43, color: '#111', margin: 18 }
  })
  option.yAxis.push({
    type: 'value', gridIndex: idx, min: 109, max: 615, z: 5,
    splitLine: { show: false },
    axisLine: { lineStyle: { color: '#222', width: 3 } },
    axisTick: { inside: true, length: 10, lineStyle: { color: '#222', width: 2 }, customValues: yTicks },
    axisLabel: { customValues: yTicks, fontFamily: FONT, fontSize: 43, color: '#111', margin: 8 }
  })

  option.series.push({
    type: 'custom', xAxisIndex: idx, yAxisIndex: idx, clip: true, silent: true, z: 2,
    data: p.contours.map((c) => [c[2][0], c[2][1]]),
    renderItem: (params, api) => {
      const c = p.contours[params.dataIndex]
      const flat = c[3] ? closeLeft(c[2]) : c[2]
      const points = []
      for (let i = 0; i < flat.length; i += 2) points.push(api.coord([flat[i], flat[i + 1]]))
      const major = isMajor(c[0], p.major)
      return {
        type: 'polygon',
        shape: { points, smooth: 0.45 },
        style: {
          fill: bandColor(c[1] > 0 ? c[0] : c[0] - step, p.levels),
          stroke: major ? DARK : LIGHT,
          lineWidth: major ? 2 : 2.5
        }
      }
    }
  })

  // labels on the contour lines
  option.series.push({
    type: 'scatter', xAxisIndex: idx, yAxisIndex: idx, symbolSize: 0, silent: true, z: 6,
    data: p.lineLabels.map((d) => ({
      value: [d[1], d[2]],
      label: { show: true, position: 'inside', formatter: d[0], rotate: d[3], fontFamily: FONT, fontSize: 37, color: '#000' }
    }))
  })

  // dashed boxes
  p.boxes.forEach((box) => {
    const [x1, x2, y1, y2] = box
    option.series.push({
      type: 'line', xAxisIndex: idx, yAxisIndex: idx, showSymbol: false, silent: true, z: 7,
      data: [[x1, y1], [x2, y1], [x2, y2], [x1, y2], [x1, y1]],
      lineStyle: { color: '#1c5ba6', width: 9, type: [20, 7] }
    })
  })

  if (p.fault) {
    option.series.push({
      type: 'line', xAxisIndex: idx, yAxisIndex: idx, showSymbol: false, silent: true, z: 8, clip: false,
      data: p.fault,
      lineStyle: { color: '#000', width: 10, type: [36, 7] }
    })
  }

  if (p.arrows.length) {
    option.series.push({
      type: 'custom', xAxisIndex: idx, yAxisIndex: idx, silent: true, z: 8,
      data: p.arrows.map((d) => [d[0], d[1]]),
      renderItem: (params, api) => {
        const d = p.arrows[params.dataIndex]
        const a = api.coord([d[0], d[1]])
        const e = api.coord([d[2], d[3]])
        const ang = Math.atan2(a[1] - e[1], a[0] - e[0])
        const head = (da) => [e[0] + 30 * Math.cos(ang + da), e[1] + 30 * Math.sin(ang + da)]
        return {
          type: 'group',
          children: [
            { type: 'line', shape: { x1: a[0], y1: a[1], x2: e[0], y2: e[1] }, style: { stroke: '#000', lineWidth: 4 } },
            { type: 'polyline', shape: { points: [head(0.4), e, head(-0.4)] }, style: { fill: 'none', stroke: '#000', lineWidth: 4 } }
          ]
        }
      }
    })
  }

  // notes inside the plot
  option.series.push({
    type: 'scatter', xAxisIndex: idx, yAxisIndex: idx, symbolSize: 0, silent: true, z: 9,
    data: p.notes.map((d) => ({
      value: [d[1], d[2]],
      label: { show: true, position: 'inside', formatter: d[0], align: 'center', verticalAlign: 'middle', fontFamily: FONT, fontSize: p.noteSize, lineHeight: p.noteLine, color: '#000' }
    }))
  })

  // colour bar
  const barIdx = option.grid.length
  const [bl, br, bt, bb] = p.bar
  const lv = p.levels
  option.grid.push({ left: bl, top: bt, width: br - bl, height: bb - bt, show: true, borderWidth: 2, borderColor: '#777', backgroundColor: 'transparent' })
  option.xAxis.push({ type: 'value', gridIndex: barIdx, min: 0, max: 1, show: false })
  option.yAxis.push({
    type: 'value', gridIndex: barIdx, position: 'right', min: lv[0], max: lv[lv.length - 1],
    splitLine: { show: false }, axisLine: { show: false }, axisTick: { show: false },
    axisLabel: {
      customValues: p.ticks, fontFamily: FONT, fontSize: 43, color: '#111', margin: 8,
      formatter: (v) => String(v).replace('-', '\u2212')
    }
  })
  option.series.push({
    type: 'custom', xAxisIndex: barIdx, yAxisIndex: barIdx, silent: true, z: 3,
    data: lv.slice(0, -1).map((v) => [0, v]),
    renderItem: (params, api) => {
      const v = lv[params.dataIndex]
      const p0 = api.coord([0, v])
      const p1 = api.coord([1, lv[params.dataIndex + 1]])
      const major = isMajor(v, p.major)
      const children = [{ type: 'rect', shape: { x: p0[0], y: p1[1], width: p1[0] - p0[0], height: p0[1] - p1[1] }, style: { fill: bandColor(v, lv) } }]
      if (params.dataIndex > 0) {
        children.push({ type: 'line', shape: { x1: p0[0], y1: p0[1], x2: p1[0], y2: p0[1] }, style: { stroke: major ? DARK : LIGHT, lineWidth: 3 }, z2: 2 })
      }
      return { type: 'group', children }
    }
  })

  option.title.push({ text: 'mm', left: p.mm[0], top: p.mm[1], padding: 0, textStyle: { fontFamily: FONT, fontSize: 42, fontWeight: 'normal', color: '#111' } })
})

captions.forEach((c) => {
  option.title.push({
    text: `{n|${c[0]}}{b|${c[1]}}{n|${c[2]}}`, left: c[3], top: c[4] - 38, textAlign: 'center', padding: 0,
    textStyle: {
      fontWeight: 'normal',
      rich: {
        n: { fontFamily: FONT, fontSize: 66, fontWeight: 'normal', color: '#111' },
        b: { fontFamily: FONT, fontSize: 66, fontWeight: 'bold', color: '#111' }
      }
    }
  })
})

const chart = echarts.init(document.getElementById('chart'))
chart.setOption(option)
</script>
</body>
</html>
